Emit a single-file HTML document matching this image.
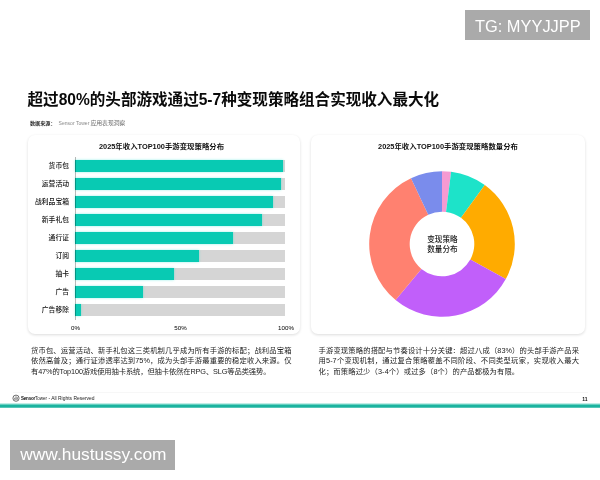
<!DOCTYPE html>
<html lang="zh-CN">
<head>
<meta charset="utf-8">
<title>超过80%的头部游戏通过5-7种变现策略组合实现收入最大化</title>
<style>
html,body{margin:0;padding:0;}
body{width:600px;height:480px;position:relative;overflow:hidden;background:#fff;
  font-family:"Liberation Sans","Noto Sans CJK SC",sans-serif;color:#111;}
.abs{position:absolute;white-space:nowrap;}
.wm{position:absolute;background:#aaaaaa;color:#fff;font-family:"Liberation Sans",sans-serif;white-space:nowrap;}
#wm1{left:465px;top:10px;width:125px;height:30px;font-size:16.4px;line-height:30px;}
#wm1 span{position:absolute;left:10px;top:0.6px;}
#wm2{left:10px;top:440px;width:165px;height:30px;font-size:17.35px;line-height:30px;}
#wm2 span{position:absolute;left:10.3px;top:-0.9px;}
#title{left:27.5px;top:88px;font-size:15.57px;line-height:24px;font-weight:bold;color:#0a0a0a;letter-spacing:0;}
#src{left:30px;top:118.7px;font-size:5.85px;line-height:8px;color:#707070;}
#src b{color:#2a2a2a;font-size:5.1px;}
#src span{font-size:5.05px;color:#8a8a8a;margin-left:3.1px;margin-right:-0.6px;}
#src i{font-style:normal;}
.panel{position:absolute;background:#fff;border-radius:7px;box-shadow:0 1px 3px rgba(0,0,0,0.14);}
#p1{left:27.7px;top:135.2px;width:272.6px;height:198.6px;}
#p2{left:311.2px;top:135.2px;width:274px;height:198.6px;}
.ctitle{position:absolute;top:141.2px;font-size:7.4px;line-height:11px;font-weight:bold;color:#111;white-space:nowrap;transform:translateX(-50%);}
.track{position:absolute;left:75.2px;width:209.8px;height:12.3px;background:#d5d5d5;}
.track i{position:absolute;left:0;top:0;height:12.3px;background:#08cab3;display:block;box-shadow:0 0 2.5px rgba(0,225,205,0.4);}
.lab{position:absolute;right:531px;font-size:6.8px;line-height:13px;color:#111;font-weight:500;white-space:nowrap;text-align:right;}
.ax{position:absolute;top:322.6px;font-size:6.2px;line-height:10px;color:#000;transform:translateX(-50%);white-space:nowrap;}
#axis{position:absolute;left:74.5px;top:156.5px;width:0.6px;height:163px;background:rgba(0,0,0,0.28);}
.para{position:absolute;top:346px;width:260.5px;font-size:7.3px;line-height:10.3px;color:#222;text-align:justify;}
.para div{text-align:justify;text-align-last:justify;white-space:nowrap;}
.para div.last{text-align-last:left;}
#ctr{position:absolute;left:412.4px;top:234.5px;width:60px;text-align:center;font-size:7.6px;line-height:10.2px;color:#1a1a1a;font-weight:500;}
#foot{left:21px;top:394.8px;font-size:4.95px;line-height:7px;color:#222;}
#foot span{font-size:4.5px;}
#foot b{color:#111;letter-spacing:-0.2px;}
#pg{left:582.3px;top:395.5px;font-size:5px;line-height:7px;font-weight:bold;color:#111;}
#bar{position:absolute;left:0;top:402.5px;width:600px;height:5.5px;background:linear-gradient(#e9f9f6 0,#86dbcf 25%,#1cb39f 42%,#1cb39f 84%,#b5e6df 100%);}
#hr{position:absolute;left:13px;top:392.1px;width:575px;height:1px;background:#f7f7f7;}
</style>
</head>
<body>
<div class="wm" id="wm1"><span>TG: MYYJJPP</span></div>

<div class="abs" id="title">超过80%的头部游戏通过5-7种变现策略组合实现收入最大化</div>
<div class="abs" id="src"><b>数据来源：</b><span>Sensor Tower</span> <i>应用表现洞察</i></div>

<div class="panel" id="p1"></div>
<div class="panel" id="p2"></div>

<div class="ctitle" style="left:161.5px">2025年收入TOP100手游变现策略分布</div>
<div class="ctitle" style="left:448px">2025年收入TOP100手游变现策略数量分布</div>

<div id="bars">
<div class="track" style="top:159.70px"><i style="width:99.2%"></i></div><div class="lab" style="top:158.80px">货币包</div>
<div class="track" style="top:177.76px"><i style="width:98.1%"></i></div><div class="lab" style="top:176.86px">运营活动</div>
<div class="track" style="top:195.82px"><i style="width:94.2%"></i></div><div class="lab" style="top:194.92px">战利品宝箱</div>
<div class="track" style="top:213.88px"><i style="width:89.2%"></i></div><div class="lab" style="top:212.98px">新手礼包</div>
<div class="track" style="top:231.94px"><i style="width:75.1%"></i></div><div class="lab" style="top:231.04px">通行证</div>
<div class="track" style="top:250.00px"><i style="width:59.1%"></i></div><div class="lab" style="top:249.10px">订阅</div>
<div class="track" style="top:268.06px"><i style="width:47.2%"></i></div><div class="lab" style="top:267.16px">抽卡</div>
<div class="track" style="top:286.12px"><i style="width:32.1%"></i></div><div class="lab" style="top:285.22px">广告</div>
<div class="track" style="top:304.18px"><i style="width:3.0%"></i></div><div class="lab" style="top:303.28px">广告移除</div>
</div>
<div id="axis"></div>
<div class="ax" style="left:75.5px">0%</div>
<div class="ax" style="left:180.5px">50%</div>
<div class="ax" style="left:286px">100%</div>

<svg class="abs" style="left:362.4px;top:164.4px" width="160" height="160" viewBox="-80 -80 160 160">
  <g id="donut">
  <path d="M0.00 -72.80A72.8 72.8 0 0 1 9.12 -72.23L4.05 -32.05A32.3 32.3 0 0 0 0.00 -32.30Z" fill="#f59ad2"/>
  <path d="M9.12 -72.23A72.8 72.8 0 0 1 42.79 -58.90L18.99 -26.13A32.3 32.3 0 0 0 4.05 -32.05Z" fill="#1de3c9"/>
  <path d="M42.79 -58.90A72.8 72.8 0 0 1 63.80 35.07L28.30 15.56A32.3 32.3 0 0 0 18.99 -26.13Z" fill="#ffab00"/>
  <path d="M63.80 35.07A72.8 72.8 0 0 1 -46.40 56.09L-20.59 24.89A32.3 32.3 0 0 0 28.30 15.56Z" fill="#c15ffa"/>
  <path d="M-46.40 56.09A72.8 72.8 0 0 1 -31.00 -65.87L-13.75 -29.23A32.3 32.3 0 0 0 -20.59 24.89Z" fill="#ff8170"/>
  <path d="M-31.00 -65.87A72.8 72.8 0 0 1 -0.00 -72.80L-0.00 -32.30A32.3 32.3 0 0 0 -13.75 -29.23Z" fill="#7a8cec"/>
  </g>
</svg>
<div id="ctr">变现策略<br>数量分布</div>

<div class="para" style="left:31px">
<div>货币包、运营活动、新手礼包这三类机制几乎成为所有手游的标配；战利品宝箱</div>
<div>依然高普及；通行证渗透率达到75%，成为头部手游最重要的稳定收入来源。仅</div>
<div class="last" style="letter-spacing:-0.12px">有47%的Top100游戏使用抽卡系统，但抽卡依然在RPG、SLG等品类强势。</div>
</div>
<div class="para" style="left:318.5px">
<div>手游变现策略的搭配与节奏设计十分关键：超过八成（83%）的头部手游产品采</div>
<div>用5-7个变现机制，通过复合策略覆盖不同阶段、不同类型玩家，实现收入最大</div>
<div class="last" style="letter-spacing:0.13px">化；而策略过少（3-4个）或过多（8个）的产品都极为有限。</div>
</div>

<div id="hr"></div>
<svg class="abs" style="left:12px;top:394px" width="8" height="8" viewBox="0 0 8 8">
  <circle cx="4" cy="4.2" r="3.1" fill="#fff" stroke="#222" stroke-width="0.65"/>
  <path d="M2.7 5.7V3.8M4 6.1V2.3M5.3 5.7V3.2" stroke="#222" stroke-width="0.6" fill="none"/>
</svg>
<div class="abs" id="foot"><span><b>Sensor</b>Tower</span> - All Rights Reserved</div>
<div class="abs" id="pg">11</div>
<div id="bar"></div>

<div class="wm" id="wm2"><span>www.hustussy.com</span></div>
</body>
</html>
